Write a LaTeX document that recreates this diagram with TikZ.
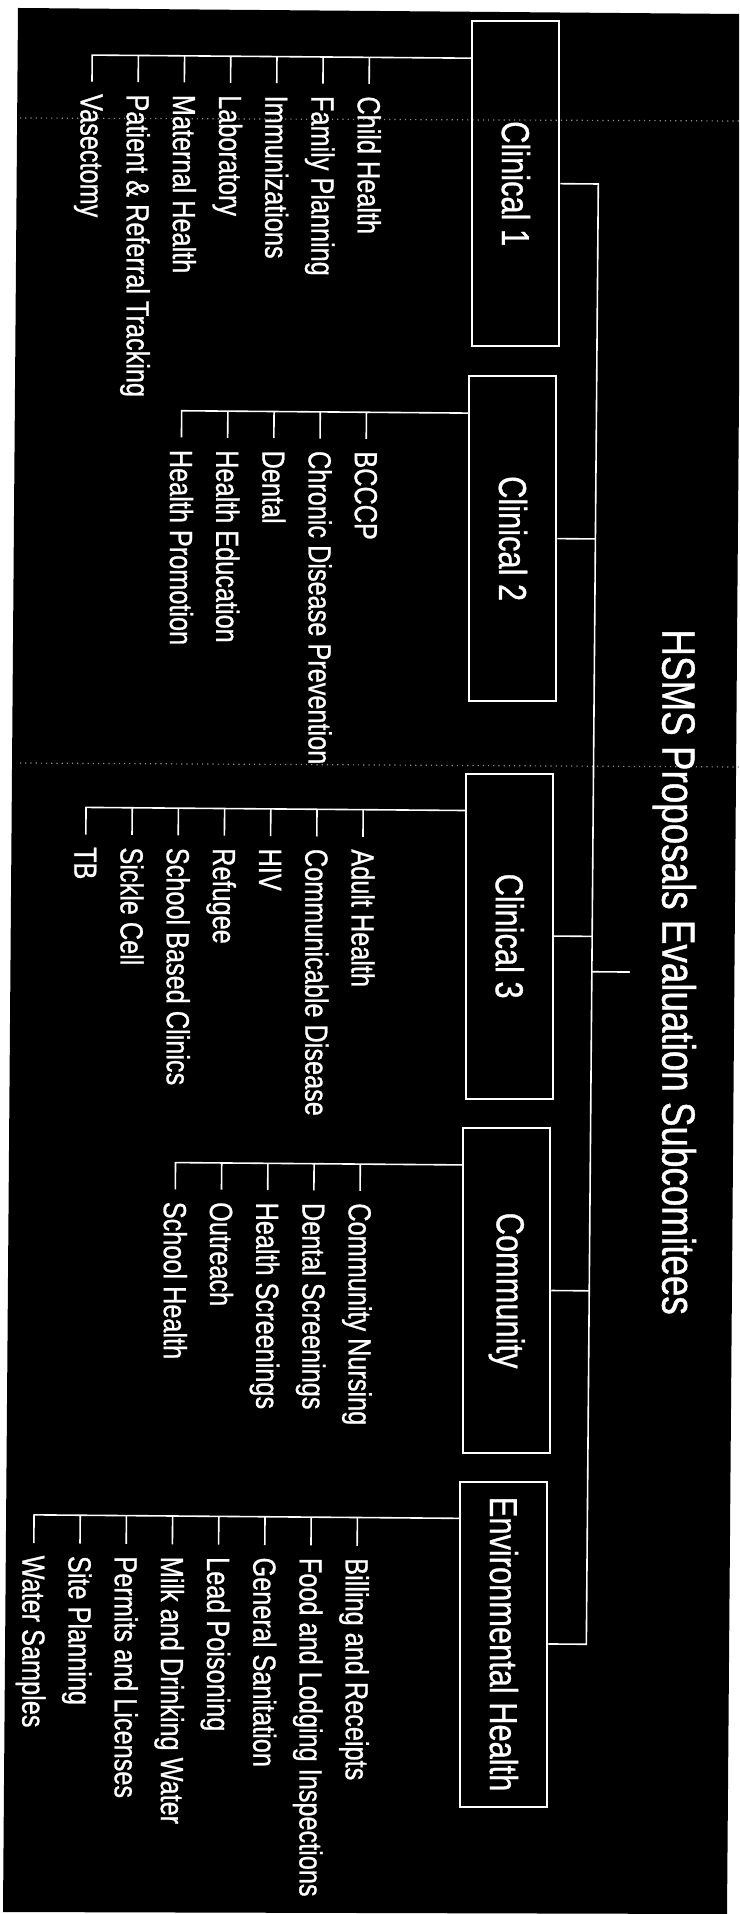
\documentclass[tikz,border=0pt]{standalone}
\usepackage{fontspec}
\setmainfont{Liberation Sans}[FakeStretch=0.79, FakeBold=0.8]
\usetikzlibrary{calc}
\definecolor{ScanBlack}{HTML}{000000}
\definecolor{ScanWhite}{HTML}{FFFFFF}
\definecolor{ScanGrey}{HTML}{8C8C8C}
\tikzset{
  subBox/.style={draw=ScanWhite, line width=1pt, rotate=-90,
    minimum width=162.5pt, minimum height=43.5pt, inner sep=0pt,
    text=ScanWhite, font=\fontsize{19.5pt}{23pt}\selectfont},
  itemText/.style={rotate=-90, anchor=west, inner xsep=6pt, inner ysep=0pt,
    text height=11.5pt, text depth=0pt,
    text=ScanWhite, font=\fontsize{16pt}{19pt}\selectfont},
  titleText/.style={rotate=-90, anchor=south, inner xsep=0pt, inner ysep=16pt,
    text height=16.7pt, text depth=0pt,
    text=ScanWhite, font=\fontsize{23.3pt}{28pt}\selectfont},
  link/.style={draw=ScanWhite, line width=0.8pt}
}
\begin{document}
\begin{tikzpicture}[x=0.5pt, y=-0.5pt]
\useasboundingbox (0,0) rectangle (739,1914);
% scanned page
\fill[ScanBlack] (18,8) -- (739,14) -- (739,394) -- (727,1914) -- (3,1912) -- cycle;
\draw[ScanGrey, dotted, line width=0.6pt] (20,118) -- (739,121);
\draw[ScanGrey, dotted, line width=0.6pt] (20,763) -- (739,767);

\begin{scope}[rotate around={-0.47:(370,960)}]
% title and subcommittees
\node[titleText] (title) at (630,970) {HSMS Proposals Evaluation Subcomitees};
\node[subBox] (c1) at (509.5,182.5) {Clinical 1};
\node[subBox] (c2) at (509.5,537.5) {Clinical 2};
\node[subBox] (c3) at (509.5,935) {Clinical 3};
\node[subBox] (com) at (509.5,1289.5) {Community};
\node[subBox] (env) at (509.5,1643) {Environmental Health};

\coordinate (trunk) at (592,970);
\draw[link] (c1.north) -| (trunk |- env.north) -- (env.north);
\draw[link] (c2.north) -- (c2.north -| trunk);
\draw[link] (c3.north) -- (c3.north -| trunk);
\draw[link] (com.north) -- (com.north -| trunk);
\draw[link] (title.south) -- (title.south -| trunk);

% Clinical 1
\node[itemText] (c1a) at (362,84) {Child Health};
\node[itemText] (c1b) at (315.8,84) {Family Planning};
\node[itemText] (c1c) at (269.6,84) {Immunizations};
\node[itemText] (c1d) at (223.4,84) {Laboratory};
\node[itemText] (c1e) at (177.2,84) {Maternal Health};
\node[itemText] (c1f) at (131,84) {Patient \& Referral Tracking};
\node[itemText] (c1g) at (84.8,84) {Vasectomy};
\coordinate (c1bus) at ($(c1.south west)+(0,38)$);
\draw[link] (c1bus) -| (c1g.west);
\draw[link] (c1a.west) -- (c1a.west |- c1bus) (c1b.west) -- (c1b.west |- c1bus)
  (c1c.west) -- (c1c.west |- c1bus) (c1d.west) -- (c1d.west |- c1bus)
  (c1e.west) -- (c1e.west |- c1bus) (c1f.west) -- (c1f.west |- c1bus);

% Clinical 2
\node[itemText] (c2a) at (362,439) {BCCCP};
\node[itemText] (c2b) at (315.8,439) {Chronic Disease Prevention};
\node[itemText] (c2c) at (269.6,439) {Dental};
\node[itemText] (c2d) at (223.4,439) {Health Education};
\node[itemText] (c2e) at (177.2,439) {Health Promotion};
\coordinate (c2bus) at ($(c2.south west)+(0,38)$);
\draw[link] (c2bus) -| (c2e.west);
\draw[link] (c2a.west) -- (c2a.west |- c2bus) (c2b.west) -- (c2b.west |- c2bus)
  (c2c.west) -- (c2c.west |- c2bus) (c2d.west) -- (c2d.west |- c2bus);

% Clinical 3
\node[itemText] (c3a) at (362,837) {Adult Health};
\node[itemText] (c3b) at (315.8,837) {Communicable Disease};
\node[itemText] (c3c) at (269.6,837) {HIV};
\node[itemText] (c3d) at (223.4,837) {Refugee};
\node[itemText] (c3e) at (177.2,837) {School Based Clinics};
\node[itemText] (c3f) at (131,837) {Sickle Cell};
\node[itemText] (c3g) at (84.8,837) {TB};
\coordinate (c3bus) at ($(c3.south west)+(0,38)$);
\draw[link] (c3bus) -| (c3g.west);
\draw[link] (c3a.west) -- (c3a.west |- c3bus) (c3b.west) -- (c3b.west |- c3bus)
  (c3c.west) -- (c3c.west |- c3bus) (c3d.west) -- (c3d.west |- c3bus)
  (c3e.west) -- (c3e.west |- c3bus) (c3f.west) -- (c3f.west |- c3bus);

% Community
\node[itemText] (coma) at (362,1191) {Community Nursing};
\node[itemText] (comb) at (315.8,1191) {Dental Screenings};
\node[itemText] (comc) at (269.6,1191) {Health Screenings};
\node[itemText] (comd) at (223.4,1191) {Outreach};
\node[itemText] (come) at (177.2,1191) {School Health};
\coordinate (combus) at ($(com.south west)+(0,38)$);
\draw[link] (combus) -| (come.west);
\draw[link] (coma.west) -- (coma.west |- combus) (comb.west) -- (comb.west |- combus)
  (comc.west) -- (comc.west |- combus) (comd.west) -- (comd.west |- combus);

% Environmental Health
\node[itemText] (enva) at (362,1546) {Billing and Receipts};
\node[itemText] (envb) at (315.8,1546) {Food and Lodging Inspections};
\node[itemText] (envc) at (269.6,1546) {General Sanitation};
\node[itemText] (envd) at (223.4,1546) {Lead Poisoning};
\node[itemText] (enve) at (177.2,1546) {Milk and Drinking Water};
\node[itemText] (envf) at (131,1546) {Permits and Licenses};
\node[itemText] (envg) at (84.8,1546) {Site Planning};
\node[itemText] (envh) at (38.6,1546) {Water Samples};
\coordinate (envbus) at ($(env.south west)+(0,38)$);
\draw[link] (envbus) -| (envh.west);
\draw[link] (enva.west) -- (enva.west |- envbus) (envb.west) -- (envb.west |- envbus)
  (envc.west) -- (envc.west |- envbus) (envd.west) -- (envd.west |- envbus)
  (enve.west) -- (enve.west |- envbus) (envf.west) -- (envf.west |- envbus)
  (envg.west) -- (envg.west |- envbus);
\end{scope}
\end{tikzpicture}
\end{document}
